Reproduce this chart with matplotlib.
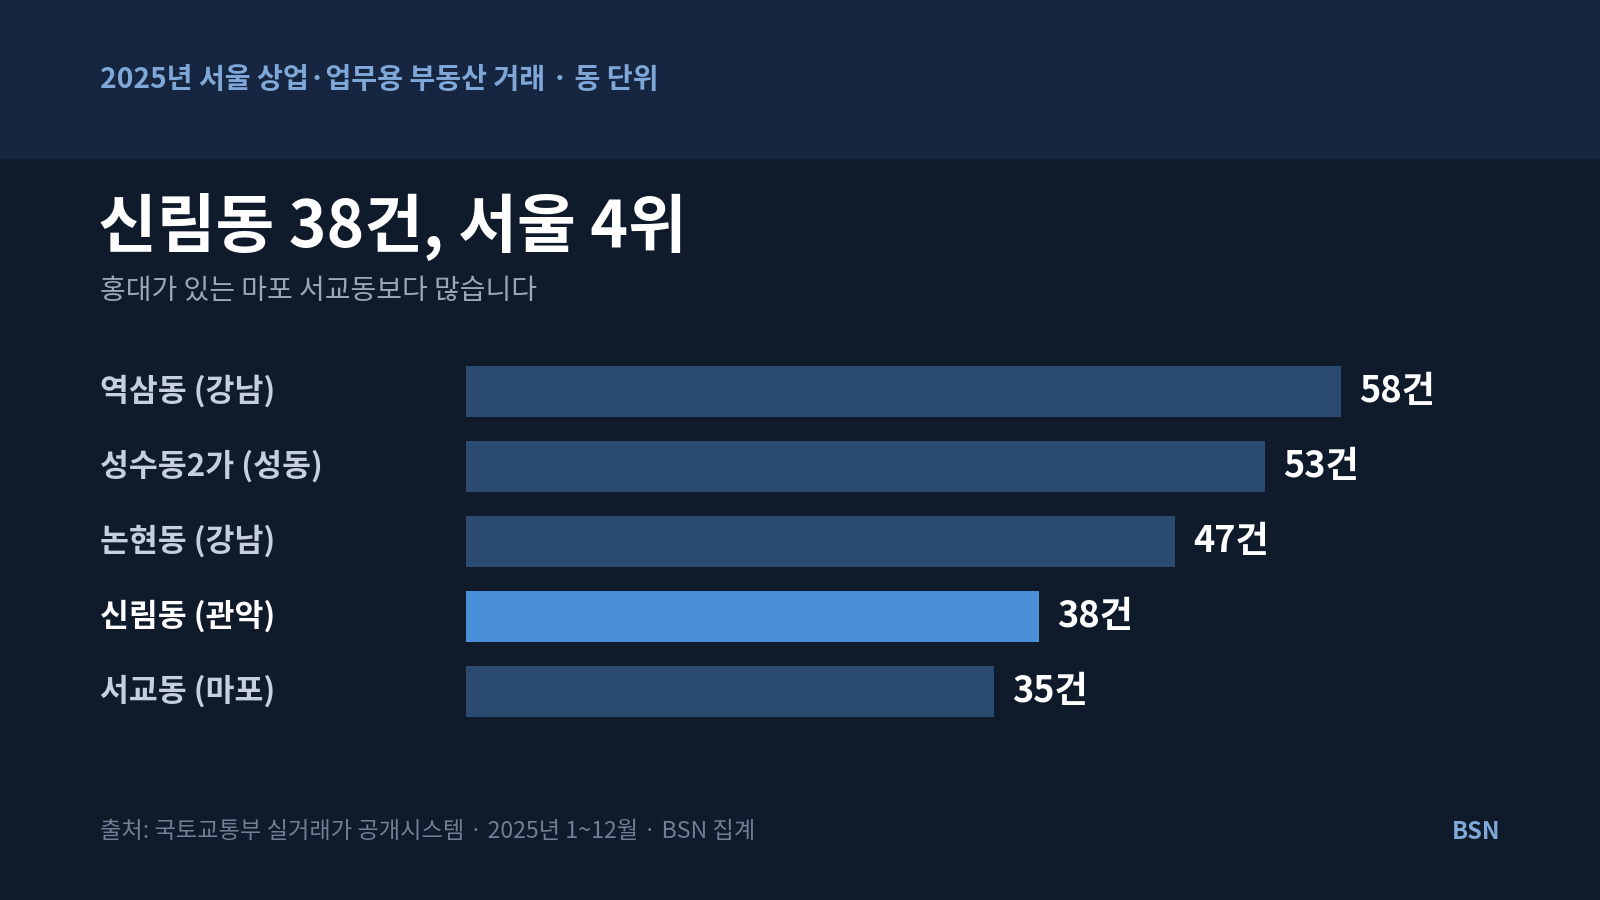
import matplotlib
matplotlib.use('agg')
import matplotlib.pyplot as plt
from matplotlib.patches import Rectangle
import matplotlib.transforms as mtransforms

plt.rcParams['font.family'] = ['Noto Sans CJK KR', 'DejaVu Sans']

names = ["역삼동 (강남)", "성수동2가 (성동)", "논현동 (강남)", "신림동 (관악)", "서교동 (마포)"]
counts = [58, 53, 47, 38, 35]
highlight = "신림동 (관악)"

W, H = 1568, 882  # layout measured in reference pixels
def fx(x): return x / W
def fy(y): return 1 - y / H

fig = plt.figure(figsize=(16, 9), dpi=100)
fig.patch.set_facecolor('#0f1a2b')
fig.patches.append(Rectangle((0, fy(155)), 1, 155 / H, transform=fig.transFigure,
                             color='#162640', zorder=0))

fig.text(fx(98), fy(78), "2025년 서울 상업·업무용 부동산 거래 · 동 단위", color='#7fa8d8',
         fontsize=20.3, fontweight='bold', va='center')
fig.text(fx(96), fy(222), "신림동 38건, 서울 4위", color='white', fontsize=46,
         fontweight='bold', va='center')
fig.text(fx(98), fy(285), "홍대가 있는 마포 서교동보다 많습니다", color='#9aa7b8',
         fontsize=20.2, va='center')

ax = fig.add_axes([fx(457), fy(714.75), fx(1314) - fx(457), (714.75 - 347.25) / H])
ax.set_facecolor('none')
ypos = list(range(len(names)))
colors = ['#4a90d9' if n == highlight else '#2a4a70' for n in names]
ax.barh(ypos, counts, height=50 / 73.5, color=colors)
ax.set_xlim(0, 58)
ax.set_ylim(len(names) - 0.5, -0.5)
ax.axis('off')

trans = mtransforms.blended_transform_factory(fig.transFigure, ax.transData)
for y, n, c in zip(ypos, names, counts):
    ax.text(fx(98), y, n, transform=trans, color='white' if n == highlight else '#c5cfdd',
            fontsize=22.6, fontweight='bold', va='center')
    ax.annotate(f"{c}건", (c, y), xytext=(13, 0), textcoords='offset points',
                color='white', fontsize=26, fontweight='bold', va='center')

fig.text(fx(98), fy(815), "출처: 국토교통부 실거래가 공개시스템 · 2025년 1~12월 · BSN 집계",
         color='#6f7f95', fontsize=16.7, va='center')
fig.text(fx(1470), fy(815), "BSN", color='#7fa8d8', fontsize=17, fontweight='bold',
         va='center', ha='right')

fig.savefig('out.png', facecolor=fig.get_facecolor())
